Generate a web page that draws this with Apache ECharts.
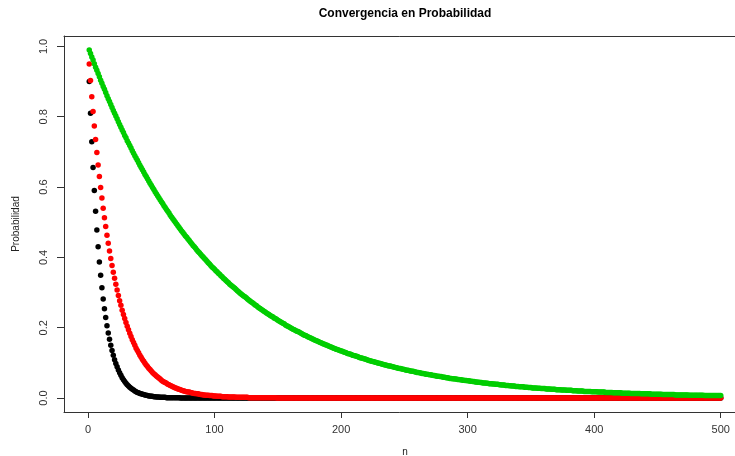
<!DOCTYPE html>
<html>
<head>
<meta charset="utf-8">
<script src="https://cdn.jsdelivr.net/npm/echarts@6/dist/echarts.min.js"></script>
<style>html,body{margin:0;padding:0;background:#fff;}#c{width:735px;height:456px;}</style>
</head>
<body>
<div id="c"></div>
<script>
// Probability for n = 1..500, 10 values per line
const probGreen = [
.990,.980,.970,.961,.951,.941,.932,.923,.914,.904,
.895,.886,.878,.869,.860,.851,.843,.835,.826,.818,
.810,.802,.794,.786,.778,.770,.762,.755,.747,.740,
.732,.725,.718,.711,.703,.696,.689,.683,.676,.669,
.662,.656,.649,.643,.636,.630,.624,.617,.611,.605,
.599,.593,.587,.581,.575,.570,.564,.558,.553,.547,
.542,.536,.531,.526,.520,.515,.510,.505,.500,.495,
.490,.485,.480,.475,.471,.466,.461,.457,.452,.448,
.443,.439,.434,.430,.426,.421,.417,.413,.409,.405,
.401,.397,.393,.389,.385,.381,.377,.373,.370,.366,
.362,.359,.355,.352,.348,.345,.341,.338,.334,.331,
.328,.324,.321,.318,.315,.312,.309,.305,.302,.299,
.296,.293,.290,.288,.285,.282,.279,.276,.273,.271,
.268,.265,.263,.260,.257,.255,.252,.250,.247,.245,
.242,.240,.238,.235,.233,.231,.228,.226,.224,.221,
.219,.217,.215,.213,.211,.208,.206,.204,.202,.200,
.198,.196,.194,.192,.190,.189,.187,.185,.183,.181,
.179,.178,.176,.174,.172,.171,.169,.167,.165,.164,
.162,.161,.159,.157,.156,.154,.153,.151,.150,.148,
.147,.145,.144,.142,.141,.139,.138,.137,.135,.134,
.133,.131,.130,.129,.127,.126,.125,.124,.122,.121,
.120,.119,.118,.116,.115,.114,.113,.112,.111,.110,
.108,.107,.106,.105,.104,.103,.102,.101,.100,.099,
.098,.097,.096,.095,.094,.093,.092,.091,.091,.090,
.089,.088,.087,.086,.085,.084,.084,.083,.082,.081,
.080,.079,.079,.078,.077,.076,.076,.075,.074,.073,
.073,.072,.071,.070,.070,.069,.068,.068,.067,.066,
.066,.065,.064,.064,.063,.062,.062,.061,.061,.060,
.059,.059,.058,.058,.057,.056,.056,.055,.055,.054,
.054,.053,.053,.052,.052,.051,.051,.050,.050,.049,
.049,.048,.048,.047,.047,.046,.046,.045,.045,.044,
.044,.043,.043,.043,.042,.042,.041,.041,.041,.040,
.040,.039,.039,.039,.038,.038,.037,.037,.037,.036,
.036,.036,.035,.035,.034,.034,.034,.033,.033,.033,
.032,.032,.032,.032,.031,.031,.031,.030,.030,.030,
.029,.029,.029,.029,.028,.028,.028,.027,.027,.027,
.027,.026,.026,.026,.026,.025,.025,.025,.025,.024,
.024,.024,.024,.023,.023,.023,.023,.022,.022,.022,
.022,.022,.021,.021,.021,.021,.020,.020,.020,.020,
.020,.019,.019,.019,.019,.019,.019,.018,.018,.018,
.018,.018,.017,.017,.017,.017,.017,.017,.016,.016,
.016,.016,.016,.016,.015,.015,.015,.015,.015,.015,
.015,.014,.014,.014,.014,.014,.014,.014,.013,.013,
.013,.013,.013,.013,.013,.013,.012,.012,.012,.012,
.012,.012,.012,.012,.011,.011,.011,.011,.011,.011,
.011,.011,.011,.010,.010,.010,.010,.010,.010,.010,
.010,.010,.010,.009,.009,.009,.009,.009,.009,.009,
.009,.009,.009,.009,.008,.008,.008,.008,.008,.008,
.008,.008,.008,.008,.008,.008,.007,.007,.007,.007,
.007,.007,.007,.007,.007,.007,.007,.007,.007,.007
];
const probRed = [
.950,.903,.857,.815,.774,.735,.698,.663,.630,.599,
.569,.540,.513,.488,.463,.440,.418,.397,.377,.358,
.341,.324,.307,.292,.277,.264,.250,.238,.226,.215,
.204,.194,.184,.175,.166,.158,.150,.142,.135,.129,
.122,.116,.110,.105,.099,.094,.090,.085,.081,.077,
.073,.069,.066,.063,.060,.057,.054,.051,.048,.046,
.044,.042,.039,.038,.036,.034,.032,.031,.029,.028,
.026,.025,.024,.022,.021,.020,.019,.018,.017,.017,
.016,.015,.014,.013,.013,.012,.012,.011,.010,.010,
.009,.009,.008,.008,.008,.007,.007,.007,.006,.006,
.006,.005,.005,.005,.005,.004,.004,.004,.004,.004,
.003,.003,.003,.003,.003,.003,.002,.002,.002,.002,
.002,.002,.002,.002,.002,.002,.001,.001,.001,.001,
.001,.001,.001,.001,.001,.001,.001,.001,.001,.001,
.001,.001,.001,.001,.001,.001,.001,.001,0,0,
0,0,0,0,0,0,0,0,0,0, // 151-160
0,0,0,0,0,0,0,0,0,0, // 161-170
0,0,0,0,0,0,0,0,0,0, // 171-180
0,0,0,0,0,0,0,0,0,0, // 181-190
0,0,0,0,0,0,0,0,0,0, // 191-200
0,0,0,0,0,0,0,0,0,0, // 201-210
0,0,0,0,0,0,0,0,0,0, // 211-220
0,0,0,0,0,0,0,0,0,0, // 221-230
0,0,0,0,0,0,0,0,0,0, // 231-240
0,0,0,0,0,0,0,0,0,0, // 241-250
0,0,0,0,0,0,0,0,0,0, // 251-260
0,0,0,0,0,0,0,0,0,0, // 261-270
0,0,0,0,0,0,0,0,0,0, // 271-280
0,0,0,0,0,0,0,0,0,0, // 281-290
0,0,0,0,0,0,0,0,0,0, // 291-300
0,0,0,0,0,0,0,0,0,0, // 301-310
0,0,0,0,0,0,0,0,0,0, // 311-320
0,0,0,0,0,0,0,0,0,0, // 321-330
0,0,0,0,0,0,0,0,0,0, // 331-340
0,0,0,0,0,0,0,0,0,0, // 341-350
0,0,0,0,0,0,0,0,0,0, // 351-360
0,0,0,0,0,0,0,0,0,0, // 361-370
0,0,0,0,0,0,0,0,0,0, // 371-380
0,0,0,0,0,0,0,0,0,0, // 381-390
0,0,0,0,0,0,0,0,0,0, // 391-400
0,0,0,0,0,0,0,0,0,0, // 401-410
0,0,0,0,0,0,0,0,0,0, // 411-420
0,0,0,0,0,0,0,0,0,0, // 421-430
0,0,0,0,0,0,0,0,0,0, // 431-440
0,0,0,0,0,0,0,0,0,0, // 441-450
0,0,0,0,0,0,0,0,0,0, // 451-460
0,0,0,0,0,0,0,0,0,0, // 461-470
0,0,0,0,0,0,0,0,0,0, // 471-480
0,0,0,0,0,0,0,0,0,0, // 481-490
0,0,0,0,0,0,0,0,0,0  // 491-500
];
const probBlack = [
.900,.810,.729,.656,.590,.531,.478,.430,.387,.349,
.314,.282,.254,.229,.206,.185,.167,.150,.135,.122,
.109,.098,.089,.080,.072,.065,.058,.052,.047,.042,
.038,.034,.031,.028,.025,.023,.020,.018,.016,.015,
.013,.012,.011,.010,.009,.008,.007,.006,.006,.005,
.005,.004,.004,.003,.003,.003,.002,.002,.002,.002,
.002,.001,.001,.001,.001,.001,.001,.001,.001,.001,
.001,.001,0,0,0,0,0,0,0,0,
0,0,0,0,0,0,0,0,0,0, // 81-90
0,0,0,0,0,0,0,0,0,0, // 91-100
0,0,0,0,0,0,0,0,0,0, // 101-110
0,0,0,0,0,0,0,0,0,0, // 111-120
0,0,0,0,0,0,0,0,0,0, // 121-130
0,0,0,0,0,0,0,0,0,0, // 131-140
0,0,0,0,0,0,0,0,0,0, // 141-150
0,0,0,0,0,0,0,0,0,0, // 151-160
0,0,0,0,0,0,0,0,0,0, // 161-170
0,0,0,0,0,0,0,0,0,0, // 171-180
0,0,0,0,0,0,0,0,0,0, // 181-190
0,0,0,0,0,0,0,0,0,0, // 191-200
0,0,0,0,0,0,0,0,0,0, // 201-210
0,0,0,0,0,0,0,0,0,0, // 211-220
0,0,0,0,0,0,0,0,0,0, // 221-230
0,0,0,0,0,0,0,0,0,0, // 231-240
0,0,0,0,0,0,0,0,0,0, // 241-250
0,0,0,0,0,0,0,0,0,0, // 251-260
0,0,0,0,0,0,0,0,0,0, // 261-270
0,0,0,0,0,0,0,0,0,0, // 271-280
0,0,0,0,0,0,0,0,0,0, // 281-290
0,0,0,0,0,0,0,0,0,0, // 291-300
0,0,0,0,0,0,0,0,0,0, // 301-310
0,0,0,0,0,0,0,0,0,0, // 311-320
0,0,0,0,0,0,0,0,0,0, // 321-330
0,0,0,0,0,0,0,0,0,0, // 331-340
0,0,0,0,0,0,0,0,0,0, // 341-350
0,0,0,0,0,0,0,0,0,0, // 351-360
0,0,0,0,0,0,0,0,0,0, // 361-370
0,0,0,0,0,0,0,0,0,0, // 371-380
0,0,0,0,0,0,0,0,0,0, // 381-390
0,0,0,0,0,0,0,0,0,0, // 391-400
0,0,0,0,0,0,0,0,0,0, // 401-410
0,0,0,0,0,0,0,0,0,0, // 411-420
0,0,0,0,0,0,0,0,0,0, // 421-430
0,0,0,0,0,0,0,0,0,0, // 431-440
0,0,0,0,0,0,0,0,0,0, // 441-450
0,0,0,0,0,0,0,0,0,0, // 451-460
0,0,0,0,0,0,0,0,0,0, // 461-470
0,0,0,0,0,0,0,0,0,0, // 471-480
0,0,0,0,0,0,0,0,0,0, // 481-490
0,0,0,0,0,0,0,0,0,0  // 491-500
];
const xTicks = [0, 100, 200, 300, 400, 500];
const yTicks = [0, 0.2, 0.4, 0.6, 0.8, 1.0];
const titleText = 'Convergencia en Probabilidad';
const xName = 'n';
const yName = 'Probabilidad';

const FONT = '"Liberation Sans", Arial, Helvetica, sans-serif';
function pairs(arr) { return arr.map((v, i) => [i + 1, v]); }

const X_MIN = -18.96, X_MAX = 519.96;
const chart = echarts.init(document.getElementById('c'), null, {renderer: 'canvas'});
chart.setOption({
  animation: false,
  backgroundColor: '#ffffff',
  graphic: [{
    type: 'text', x: 405, y: 14,
    style: {text: titleText, textAlign: 'center', textVerticalAlign: 'middle',
            font: 'bold 12px ' + FONT, fill: '#000'}
  }],
  grid: {left: 64, top: 36, width: 682, height: 376, show: false,
         containLabel: false, outerBoundsMode: 'none'},
  xAxis: [{
    type: 'value', min: X_MIN, max: X_MAX, position: 'bottom',
    name: xName, nameLocation: 'middle', nameGap: 35,
    nameTextStyle: {fontFamily: FONT, fontSize: 10, color: '#222'},
    axisLine: {show: true, onZero: false, lineStyle: {color: '#333', width: 1}},
    axisTick: {show: true, customValues: xTicks, length: 6, lineStyle: {color: '#333'}},
    axisLabel: {show: true, customValues: xTicks, margin: 12, fontFamily: FONT, fontSize: 11, color: '#333'},
    splitLine: {show: false}
  }, {
    type: 'value', min: X_MIN, max: X_MAX, position: 'top',
    axisLine: {show: true, onZero: false, lineStyle: {color: '#333', width: 1}},
    axisTick: {show: false}, axisLabel: {show: false}, splitLine: {show: false}
  }],
  yAxis: {
    type: 'value', min: -0.0396, max: 1.0296, position: 'left',
    name: yName, nameLocation: 'middle', nameGap: 43,
    nameTextStyle: {fontFamily: FONT, fontSize: 10, color: '#222'},
    axisLine: {show: true, onZero: false, lineStyle: {color: '#333', width: 1}},
    axisTick: {show: true, customValues: yTicks, length: 7, lineStyle: {color: '#333'}},
    axisLabel: {show: true, customValues: yTicks, rotate: 90, margin: 15, fontFamily: FONT, fontSize: 11, color: '#333',
                formatter: v => Number(v).toFixed(1)},
    splitLine: {show: false}
  },
  series: [
    {type: 'scatter', name: 'negro', data: pairs(probBlack), symbol: 'circle', symbolSize: 5.5,
     itemStyle: {color: '#000000', opacity: 1}, progressive: 0, silent: true},
    {type: 'scatter', name: 'rojo', data: pairs(probRed), symbol: 'circle', symbolSize: 5.5,
     itemStyle: {color: '#ff0000', opacity: 1}, progressive: 0, silent: true},
    {type: 'scatter', name: 'verde', data: pairs(probGreen), symbol: 'circle', symbolSize: 5.5,
     itemStyle: {color: '#00cd00', opacity: 1}, progressive: 0, silent: true}
  ]
});
</script>
</body>
</html>
